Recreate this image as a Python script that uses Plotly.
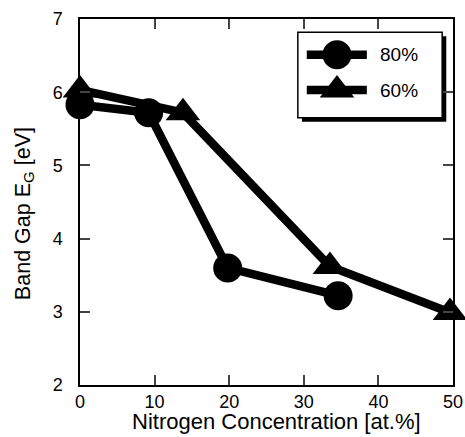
import plotly.graph_objects as go

# Data
x80 = [0, 9.2, 19.8, 34.6]
y80 = [5.83, 5.72, 3.6, 3.22]
x60 = [0, 13.8, 33.5, 49.6]
y60 = [6.03, 5.72, 3.62, 2.99]
series_names = ["80%", "60%"]
x_ticks = [0, 10, 20, 30, 40, 50]
y_ticks = [2, 3, 4, 5, 6, 7]
x_title = "Nitrogen Concentration [at.%]"
y_title = "Band Gap E<sub>G</sub> [eV]"

FONT = "Liberation Sans, Arial, sans-serif"
LW = 8.5

fig = go.Figure()
fig.add_trace(go.Scatter(x=x80, y=y80, mode="lines+markers",
                         line=dict(color="black", width=LW),
                         marker=dict(symbol="circle", size=29, color="black", opacity=1),
                         cliponaxis=False, showlegend=False))
fig.add_trace(go.Scatter(x=x60, y=y60, mode="lines+markers",
                         line=dict(color="black", width=LW),
                         marker=dict(symbol="triangle-up", size=30, color="black", opacity=1),
                         cliponaxis=False, showlegend=False))

# Custom legend (overlay axes in plot-fraction units)
lx0, lx1, lxm = 0.608, 0.769, 0.689
rows = [0.902, 0.806]
symbols = ["circle", "triangle-up"]
sizes = [29, 30]
for name, ry, sym, sz in zip(series_names, rows, symbols, sizes):
    fig.add_trace(go.Scatter(x=[lx0, lx1], y=[ry, ry], mode="lines",
                             line=dict(color="black", width=LW),
                             xaxis="x2", yaxis="y2", cliponaxis=False, showlegend=False))
    fig.add_trace(go.Scatter(x=[lxm], y=[ry], mode="markers",
                             marker=dict(symbol=sym, size=sz, color="black", opacity=1),
                             xaxis="x2", yaxis="y2", cliponaxis=False, showlegend=False))
    fig.add_annotation(x=0.798, y=ry, xref="paper", yref="paper", text=name,
                       showarrow=False, xanchor="left", yanchor="middle",
                       font=dict(family=FONT, size=19, color="black"))

bx0, bx1, by0, by1 = 0.584, 0.971, 0.730, 0.964
dx, dy = 0.011, 0.011
fig.add_shape(type="rect", xref="paper", yref="paper", x0=bx0 + dx, x1=bx1 + dx,
              y0=by0 - dy, y1=by1 - dy, fillcolor="black", line=dict(width=0), layer="below")
fig.add_shape(type="rect", xref="paper", yref="paper", x0=bx0, x1=bx1, y0=by0, y1=by1,
              fillcolor="white", line=dict(color="black", width=1.5), layer="below")

# Axis titles as annotations (positioned like the reference)
fig.add_annotation(x=0.528, y=-0.063, xref="paper", yref="paper", text=x_title,
                   showarrow=False, xanchor="center", yanchor="top", borderpad=0,
                   font=dict(family=FONT, size=22, color="black"))
fig.add_annotation(x=-0.15, y=0.467, xref="paper", yref="paper", text=y_title,
                   showarrow=False, xanchor="center", yanchor="middle", textangle=-90,
                   font=dict(family=FONT, size=21.5, color="black"))

fig.update_layout(
    width=465, height=437,
    margin=dict(l=80, r=12, t=19, b=52, autoexpand=False),
    paper_bgcolor="white", plot_bgcolor="white",
    font=dict(family=FONT, size=18, color="black"),
    xaxis=dict(range=[0, 50], tickvals=x_ticks, ticks="inside", ticklen=10, tickwidth=1.5,
               showline=True, linecolor="black", linewidth=1.5, mirror="ticks",
               showgrid=False, zeroline=False, automargin=False),
    yaxis=dict(range=[2, 7], tickvals=y_ticks, ticks="inside", ticklen=10, tickwidth=1.5,
               showline=True, linecolor="black", linewidth=1.5, mirror="ticks",
               showgrid=False, zeroline=False, automargin=False, ticklabelstandoff=12),
    xaxis2=dict(range=[0, 1], overlaying="x", visible=False, anchor="y2"),
    yaxis2=dict(range=[0, 1], overlaying="y", visible=False, anchor="x2"),
    showlegend=False,
)

fig.write_html("out.html")
